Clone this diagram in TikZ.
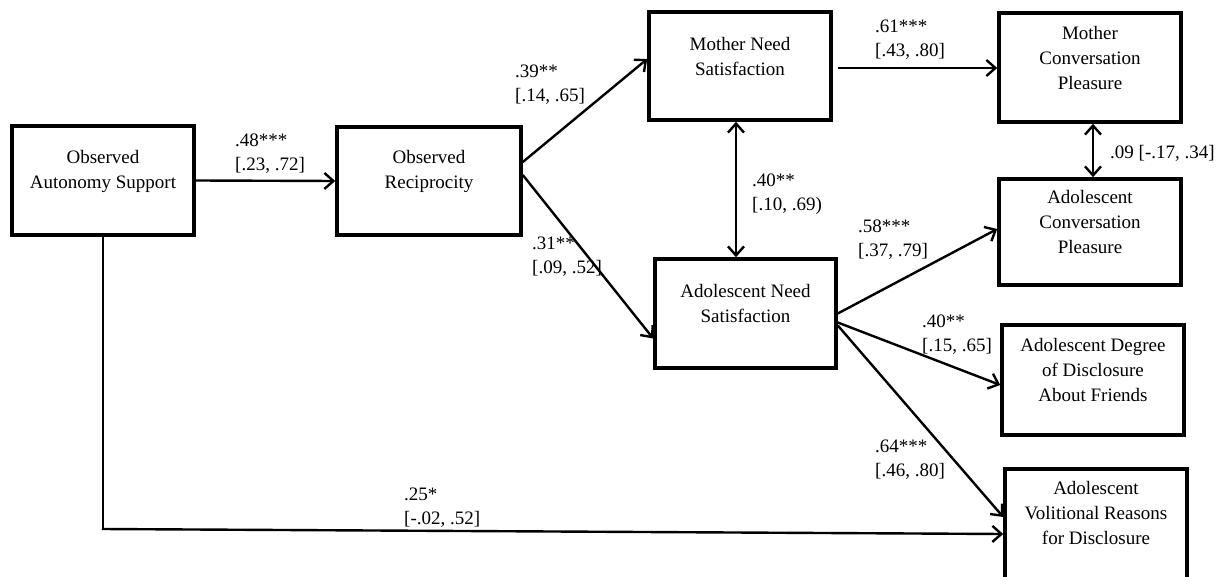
\documentclass[tikz,border=0pt]{standalone}
\usepackage{fontspec}
\setmainfont{Liberation Serif}
\usetikzlibrary{arrows.meta,calc}
\tikzset{
  boxnode/.style={draw, line width=3.6pt, rectangle, inner sep=0pt, minimum width=182pt, minimum height=109pt},
  boxtext/.style={align=center, font=\fontsize{19}{25}\selectfont, inner sep=0pt},
  labtext/.style={align=left, anchor=west, font=\fontsize{19}{24}\selectfont, inner sep=0pt},
  conn/.style={line width=2.4pt, -{Straight Barb[length=9pt,width=16pt,line width=2.4pt]}},
  dconn/.style={line width=2.4pt, {Straight Barb[length=9pt,width=16pt,line width=2.4pt]}-{Straight Barb[length=9pt,width=16pt,line width=2.4pt]}},
  plain/.style={line width=2.4pt}
}
\begin{document}
\begin{tikzpicture}[x=1pt,y=-1pt]
\useasboundingbox (0,0) rectangle (1226,577);
\clip (0,0) rectangle (1226,577);
% boxes
\node[boxnode] (b1) at (103,180.5) {};
\node[boxnode, minimum width=184pt, minimum height=108pt] (b2) at (429,181) {};
\node[boxnode, minimum height=108pt] (b3) at (740,66) {};
\node[boxnode, minimum width=181pt] (b4) at (745.5,313.5) {};
\node[boxnode] (b5) at (1090,67.5) {};
\node[boxnode, minimum height=106pt] (b6) at (1090,232) {};
\node[boxnode, minimum height=110pt] (b7) at (1093,380) {};
\node[boxnode, minimum height=110pt] (b8) at (1096,524) {};
% box texts
\node[boxtext] (t1) at ([yshift=9.5pt]b1.center) {Observed\\Autonomy Support};
\node[boxtext] (t2) at ([yshift=9.5pt]b2.center) {Observed\\Reciprocity};
\node[boxtext] (t3) at ([yshift=9.5pt]b3.center) {Mother Need\\Satisfaction};
\node[boxtext] (t4) at ([yshift=9.5pt]b4.center) {Adolescent Need\\Satisfaction};
\node[boxtext] (t5) at ([yshift=9.5pt]b5.center) {Mother\\Conversation\\Pleasure};
\node[boxtext] (t6) at ([yshift=9.5pt]b6.center) {Adolescent\\Conversation\\Pleasure};
\node[boxtext] (t7) at ([yshift=9.5pt]b7.center) {Adolescent Degree\\of Disclosure\\About Friends};
\node[boxtext] (t8) at ([yshift=11pt]b8.center) {Adolescent\\Volitional Reasons\\for Disclosure};
% connectors
\draw[conn] (b1.east) -- (b2.west);
\draw[conn] ([yshift=19pt]b2.east) -- ([yshift=7pt]b3.west);
\draw[conn] ([yshift=6pt]b2.east) -- ([yshift=-25pt]b4.west);
\draw[dconn] ([xshift=-4pt]b3.south) -- ([xshift=-4pt]b3.south |- b4.north);
\draw[conn] ([xshift=5pt,yshift=-2pt]b3.east) -- ([yshift=-0.5pt]b5.west);
\draw[dconn] ([xshift=3pt]b5.south) -- ([xshift=3pt]b5.south |- b6.north);
\draw[conn] (b4.east) -- ([yshift=3pt]b6.west);
\draw[conn] ([yshift=-9pt]b4.east) -- ([yshift=-5pt]b7.west);
\draw[conn] ([yshift=-12pt]b4.east) -- ([yshift=7pt]b8.west);
\coordinate (c1) at (b1.south |- 0,529);
\draw[plain] (b1.south) -- (c1);
\draw[conn] ([xshift=-1.2pt]c1) -- ([yshift=-10pt]b8.west);
% labels
\node[labtext] (l1) at (235,153.5) {.48***\\ {[.23, .72]}};
\node[labtext] (l2) at (515,85) {.39**\\ {[.14, .65]}};
\node[labtext] (l3) at (532,256.5) {.31**\\ {[.09, .52]}};
\node[labtext] (l4) at (752,194.5) {.40**\\ {[.10, .69)}};
\node[labtext] (l5) at (875,40) {.61***\\ {[.43, .80]}};
\node[labtext] (l6) at (1110,153) {.09 [-.17, .34]};
\node[labtext] (l7) at (858,240) {.58***\\ {[.37, .79]}};
\node[labtext] (l8) at (922,334.5) {.40**\\ {[.15, .65]}};
\node[labtext] (l9) at (875,460) {.64***\\ {[.46, .80]}};
\node[labtext] (l10) at (404,508) {.25*\\ {[-.02, .52]}};
\end{tikzpicture}
\end{document}
